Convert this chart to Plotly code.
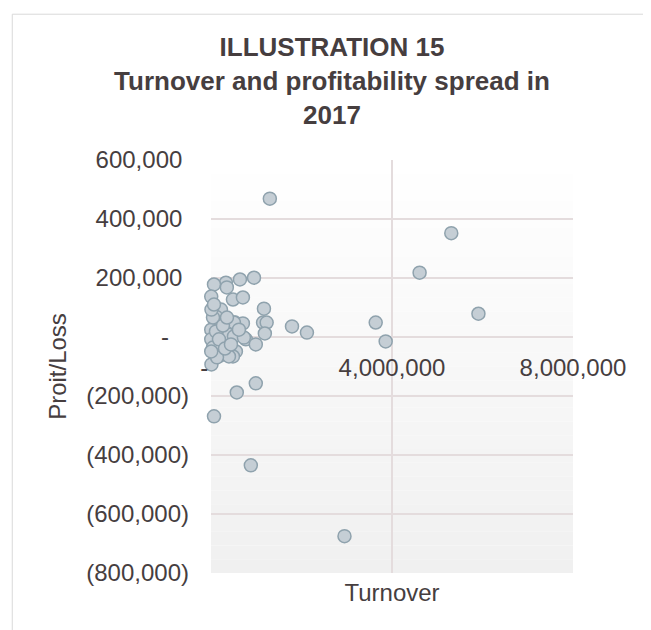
import plotly.graph_objects as go

turnover = [1300000, 5310000, 4610000, 5910000, 3640000, 3860000, 2120000, 1790000, 1170000, 1150000,
            1230000, 1190000, 950000, 640000, 330000, 66000, 350000, 5000, 485000, 705000,
            220000, 110000, 530000, 705000, 110000, 5000, 330000, 220000, 550000, 770000,
            990000, 400000, 5000, 485000, 10000, 66000, 880000, 2950000, 570000, 990000,
            44000, 10000, 110000, 507000, 507000, 198000, 397000, 727000, 44000, 176000,
            264000, 353000, 66000, 617000, 132000, 309000, 5000, 441000]
profit = [469000, 352000, 218000, 79000, 49000, -15000, 15000, 36000, 96000, 49000,
          49000, 12000, 201000, 195000, 184000, 178000, 168000, 137000, 127000, 134000,
          93000, 69000, 49000, 46000, 49000, 25000, -15000, -52000, -49000, -8000,
          -25000, 8000, -8000, -66000, -93000, -269000, -435000, -675000, -188000, -157000,
          66000, 93000, 19000, 49000, 2000, -63000, -66000, -2000, -36000, -8000,
          39000, 66000, 110000, 25000, -69000, -39000, -49000, -25000]

x_tickvals = [0, 4000000, 8000000]
x_ticktext = ["-\u00a0\u00a0", "4,000,000", "8,000,000"]
y_tickvals = [600000, 400000, 200000, 0, -200000, -400000, -600000, -800000]
y_ticktext = ["600,000\u00a0", "400,000\u00a0", "200,000\u00a0", "-\u00a0\u00a0\u00a0",
              "(200,000)", "(400,000)", "(600,000)", "(800,000)"]

TEXT = "#463e3f"
GRID = "#e4dcdd"
FONT = "Liberation Sans, Arial, sans-serif"
Y_MIN, Y_MAX = -800000, 600000

# page body has an 8px margin; figure is sized to compensate
W, H = 643, 622

fig = go.Figure()
fig.add_trace(go.Scatter(
    x=turnover, y=profit, mode="markers",
    marker=dict(size=13, color="#c5ced5", line=dict(color="#8fa2ad", width=1.5)),
    showlegend=False, cliponaxis=False,
))

# gradient plot background
shapes = []
n = 30
for i in range(n):
    c = int(round(255 - 15 * (i + 0.5) / n))
    shapes.append(dict(type="rect", xref="paper", yref="paper", x0=0, x1=1,
                       y0=1 - (i + 1) / n, y1=1 - i / n, layer="below",
                       line=dict(width=0), fillcolor=f"rgb({c},{c},{c})"))
# chart frame
shapes.append(dict(type="rect", xref="paper", yref="paper", x0=-0.549, x1=1.4,
                   y0=-0.4, y1=1.353, layer="below",
                   line=dict(color="#d9d9d9", width=1), fillcolor="rgba(0,0,0,0)"))

fig.update_layout(
    width=W, height=H, autosize=False,
    margin=dict(l=203, r=78, t=152, b=57),
    paper_bgcolor="white", plot_bgcolor="rgba(0,0,0,0)",
    font=dict(family=FONT, color=TEXT, size=24),
    title=dict(text="<b>ILLUSTRATION 15<br>Turnover and profitability spread in<br>2017</b>",
               font=dict(family=FONT, size=26, color=TEXT),
               xref="container", yref="container", x=324 / W, xanchor="center",
               y=1 - 48 / H, yanchor="middle"),
    shapes=shapes,
    xaxis=dict(range=[0, 8000000], tickvals=x_tickvals, ticktext=x_ticktext,
               showgrid=True, gridcolor=GRID, gridwidth=1.5, zeroline=False, showline=False,
               anchor="free", position=(0 - Y_MIN) / (Y_MAX - Y_MIN),
               ticks="", ticklabelstandoff=14,
               tickfont=dict(size=24, color=TEXT),
               title=dict(text="Turnover", font=dict(size=24, color=TEXT), standoff=204)),
    yaxis=dict(range=[Y_MIN, Y_MAX], tickvals=y_tickvals, ticktext=y_ticktext,
               showgrid=True, gridcolor=GRID, gridwidth=1.5, zeroline=False, showline=False,
               ticks="", ticklabelstandoff=21,
               tickfont=dict(size=24, color=TEXT),
               title=dict(text="Proit/Loss", font=dict(size=24, color=TEXT), standoff=12)),
)

fig.write_html("out.html")
